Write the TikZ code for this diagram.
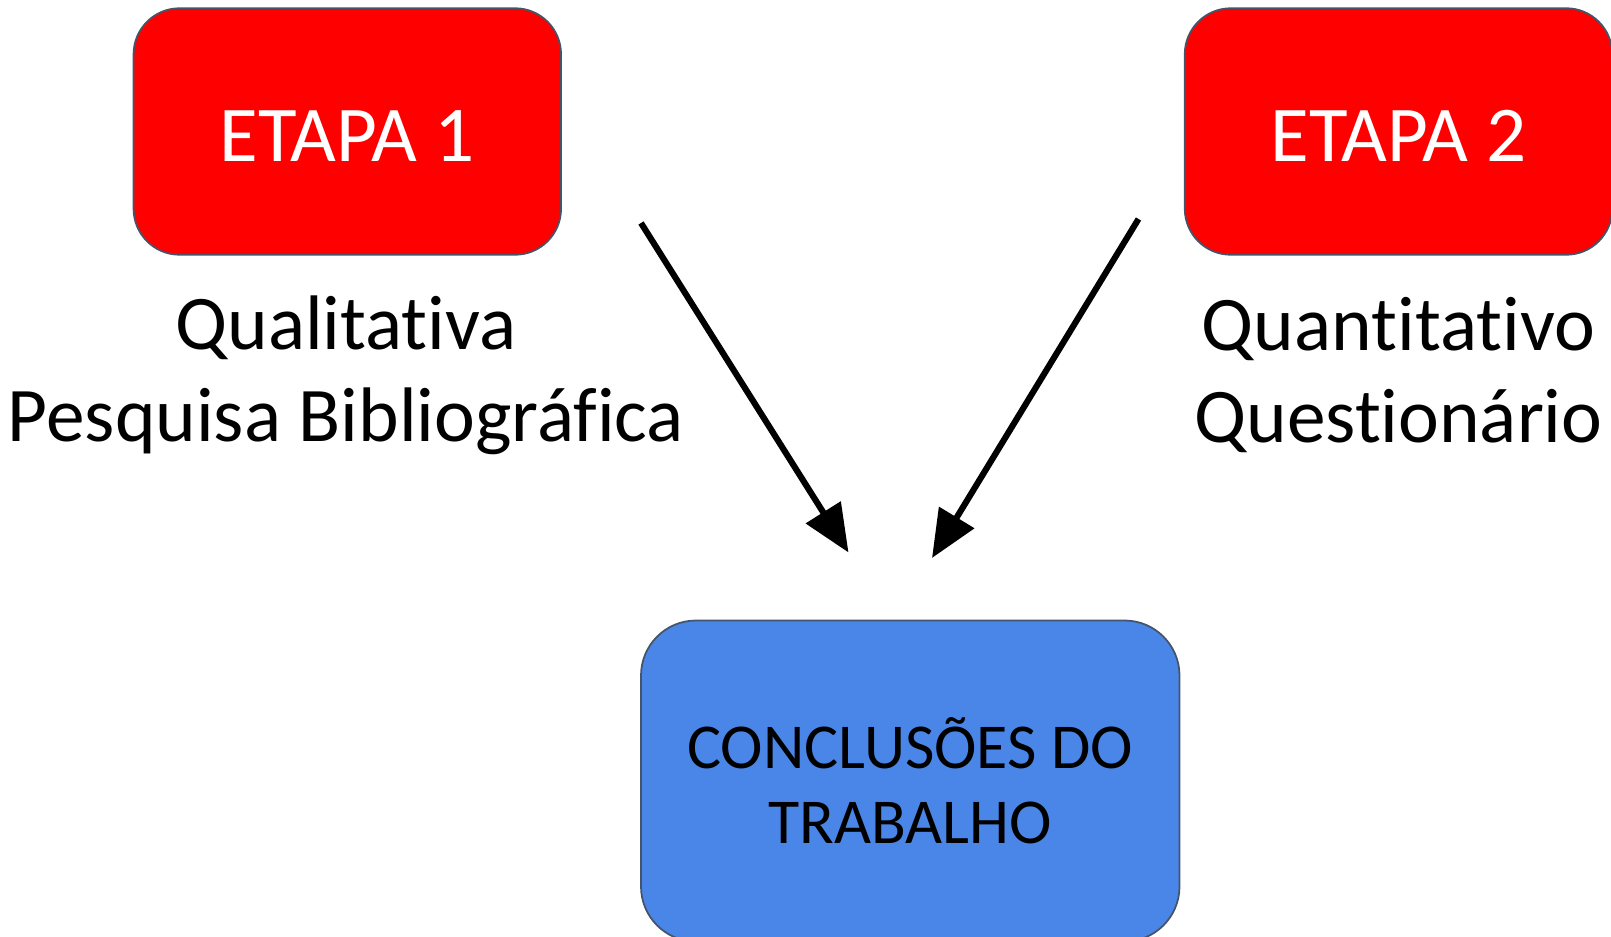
\documentclass[tikz,border=0pt]{standalone}
\usepackage{fontspec}
\setmainfont{Carlito}[Ligatures=NoCommon]
\usetikzlibrary{arrows.meta}
\definecolor{etapared}{RGB}{255,0,0}
\definecolor{conclblue}{RGB}{74,134,232}
\definecolor{rimgray}{RGB}{68,84,106}
\begin{document}
\begin{tikzpicture}[
  etapa/.style={rectangle, rounded corners=0.92cm, draw=rimgray, line width=1pt, fill=etapared, text=white,
    minimum width=8.55cm, minimum height=4.93cm, inner sep=0pt, text height=1.2cm, text depth=0pt,
    font=\fontsize{45}{54}\selectfont},
  conclusao/.style={rectangle, rounded corners=1.1cm, draw=rimgray, line width=1pt, fill=conclblue, text=black,
    minimum width=10.77cm, minimum height=6.42cm, inner sep=0pt, align=center, font=\fontsize{36.4}{42.5}\selectfont},
  rotulo/.style={align=center, inner sep=0pt, font=\fontsize{44}{52.5}\selectfont},
  seta/.style={-{Triangle[length=0.95cm,width=0.8cm]}, line width=3.5pt}
]
\useasboundingbox (0,0) rectangle (32.22,-18.74);

\node[etapa] (e1) at (6.946,-2.63) {ETAPA 1};
\node[etapa] (e2) at (27.97,-2.63) {ETAPA 2};
\node[rotulo] (r1) at (6.92,-7.5) {Qualitativa\\Pesquisa Bibliográfica};
\node[rotulo] (r2) at (27.97,-7.5) {Quantitativo\\Questionário};
\node[conclusao] (c) at (18.205,-15.62) {CONCLUSÕES DO\\TRABALHO};

\coordinate (s1) at (12.82,-4.46);
\coordinate (t1) at (16.97,-11.05);
\coordinate (s2) at (22.77,-4.38);
\coordinate (t2) at (18.64,-11.16);

\draw[seta] (s1) -- (t1);
\draw[seta] (s2) -- (t2);

\end{tikzpicture}
\end{document}
